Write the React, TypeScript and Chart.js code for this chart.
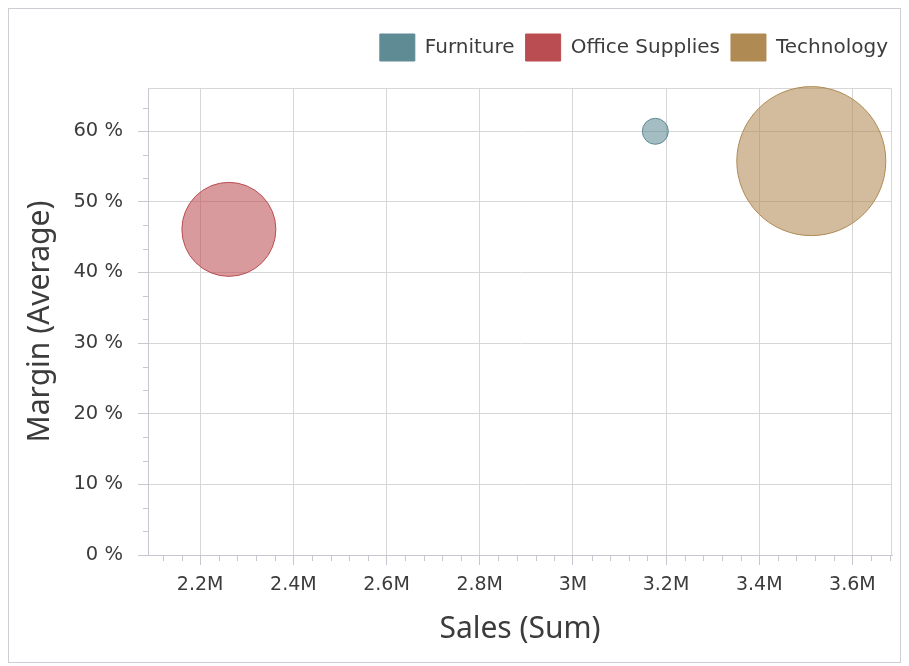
import React, { useEffect, useRef } from 'react';
import { Chart, registerables } from 'chart.js';

Chart.register(...registerables);

// ---- data ----
const seriesNames = ['Furniture', 'Office Supplies', 'Technology'];
const salesSum = [3177000, 2261600, 3511800];
const marginAvg = [59.97, 46.09, 55.75];
const bubbleRadius = [13, 47, 74.5];
const seriesColors = ['#5F8B95', '#BA4D51', '#AF8A53'];

const xTickValues = [2200000, 2400000, 2600000, 2800000, 3000000, 3200000, 3400000, 3600000];
const xTickLabels = ['2.2M', '2.4M', '2.6M', '2.8M', '3M', '3.2M', '3.4M', '3.6M'];
const yTickValues = [0, 10, 20, 30, 40, 50, 60];
const yTickLabels = ['0 %', '10 %', '20 %', '30 %', '40 %', '50 %', '60 %'];
const xRange = [2088000, 3685000];
const yRange = [0, 66.1];
const xMinorPerMajor = 5;
const yMinorPerMajor = 3;

const xTitle = 'Sales (Sum)';
const yTitle = 'Margin (Average)';

const W = 891;
const H = 653;
const TICK_FONT = 'DejaVu Sans';
const TITLE_FONT = 'Noto Sans';
const GRID = '#d6d6d6';
const AXIS = '#c6c7d1';
const TEXT = '#3c3c3c';
const FILL_ALPHA = '91';

function minorValues(major: number[], per: number, min: number, max: number) {
  const step = (major[1] - major[0]) / per;
  const out: number[] = [];
  const start = major[0] - Math.floor((major[0] - min) / step) * step;
  for (let v = start; v <= max + 1e-9; v += step) {
    const isMajor = major.some((m) => Math.abs(m - v) < step / 100);
    if (!isMajor) out.push(v);
  }
  return out;
}

export default function App() {
  const ref = useRef<HTMLCanvasElement>(null);

  useEffect(() => {
    const canvas = ref.current!;
    const framePlugin = {
      id: 'framePlugin',
      beforeLayout(chart: any) {
        const lg = chart.legend;
        if (lg && !lg.__patched) {
          const f = lg.fit.bind(lg);
          lg.fit = function () {
            f();
            this.height = 65;
          };
          lg.__patched = true;
        }
      },
      afterLayout(chart: any) {
        const lg = chart.legend;
        if (lg) {
          lg.left += 7;
          lg.right += 7;
        }
      },
      beforeDatasetsDraw(chart: any) {
        const { ctx, chartArea: a } = chart;
        ctx.save();
        ctx.strokeStyle = GRID;
        ctx.lineWidth = 1;
        ctx.beginPath();
        ctx.moveTo(Math.round(a.left) + 0.5, Math.round(a.top) + 0.5);
        ctx.lineTo(Math.round(a.right) - 0.5, Math.round(a.top) + 0.5);
        ctx.lineTo(Math.round(a.right) - 0.5, Math.round(a.bottom) + 0.5);
        ctx.stroke();
        ctx.restore();
      },
      afterDraw(chart: any) {
        const { ctx, chartArea: a, scales } = chart;
        ctx.save();
        ctx.strokeStyle = AXIS;
        ctx.lineWidth = 1;
        ctx.beginPath();
        for (const v of minorValues(yTickValues, yMinorPerMajor, yRange[0], yRange[1])) {
          const y = Math.round(scales.y.getPixelForValue(v)) + 0.5;
          ctx.moveTo(a.left - 5, y);
          ctx.lineTo(a.left, y);
        }
        for (const v of minorValues(xTickValues, xMinorPerMajor, xRange[0], xRange[1])) {
          const x = Math.round(scales.x.getPixelForValue(v)) + 0.5;
          ctx.moveTo(x, a.bottom);
          ctx.lineTo(x, a.bottom + 6);
        }
        ctx.stroke();
        ctx.restore();
      },
    };

    const chart = new Chart(canvas, {
      type: 'bubble',
      data: {
        datasets: seriesNames.map((name, i) => ({
          label: name,
          data: [{ x: salesSum[i], y: marginAvg[i], r: bubbleRadius[i] }],
          backgroundColor: seriesColors[i] + FILL_ALPHA,
          borderColor: seriesColors[i],
          borderWidth: 1,
          hoverRadius: 0,
          clip: false as any,
        })),
      },
      options: {
        responsive: false,
        animation: false,
        events: [],
        layout: { autoPadding: false, padding: { top: 14, right: 8, left: 0, bottom: 0 } },
        plugins: {
          tooltip: { enabled: false },
          legend: {
            position: 'top',
            align: 'end',
            labels: {
              boxWidth: 35,
              boxHeight: 27,
              padding: 11,
              color: TEXT,
              font: { family: TICK_FONT, size: 20 },
              generateLabels: (ch: any) =>
                ch.data.datasets.map((ds: any, i: number) => ({
                  text: ds.label,
                  fillStyle: seriesColors[i],
                  strokeStyle: seriesColors[i],
                  lineWidth: 1,
                  hidden: false,
                  datasetIndex: i,
                  fontColor: TEXT,
                })),
            },
          },
        },
        scales: {
          x: {
            type: 'linear',
            position: 'bottom',
            min: xRange[0],
            max: xRange[1],
            afterBuildTicks: (s: any) => {
              s.ticks = xTickValues.map((v) => ({ value: v }));
            },
            afterFit: (s: any) => {
              s.height = 107;
              s.paddingLeft = 0;
              s.paddingRight = 0;
              s.paddingTop = 0;
              s.paddingBottom = 0;
            },
            ticks: {
              autoSkip: false,
              maxRotation: 0,
              padding: 9,
              color: TEXT,
              font: { family: TICK_FONT, size: 19 },
              callback: (v: any) => {
                const i = xTickValues.indexOf(Number(v));
                return i >= 0 ? xTickLabels[i] : '';
              },
            },
            grid: { color: GRID, tickColor: AXIS, tickLength: 10 },
            border: { color: AXIS },
            title: {
              display: true,
              text: xTitle,
              color: TEXT,
              font: { family: TITLE_FONT, size: 30 },
              padding: { top: 0, bottom: 15 },
            },
          },
          y: {
            type: 'linear',
            position: 'left',
            min: yRange[0],
            max: yRange[1],
            afterBuildTicks: (s: any) => {
              s.ticks = yTickValues.map((v) => ({ value: v }));
            },
            afterFit: (s: any) => {
              s.width = 139;
              s.paddingLeft = 0;
              s.paddingRight = 0;
              s.paddingTop = 0;
              s.paddingBottom = 0;
            },
            ticks: {
              autoSkip: false,
              padding: 15,
              color: TEXT,
              font: { family: TICK_FONT, size: 19.5 },
              callback: (v: any) => {
                const i = yTickValues.indexOf(Number(v));
                return i >= 0 ? yTickLabels[i] : '';
              },
            },
            grid: { color: GRID, tickColor: AXIS, tickLength: 10 },
            border: { color: AXIS },
            title: {
              display: true,
              text: yTitle,
              color: TEXT,
              font: { family: TITLE_FONT, size: 30 },
              padding: { top: 13, bottom: 0 },
            },
          },
        },
      },
      plugins: [framePlugin],
    } as any);

    return () => chart.destroy();
  }, []);

  return (
    <div
      style={{
        width: W + 2,
        height: H + 2,
        boxSizing: 'border-box',
        border: '1px solid #cdcdd4',
        boxShadow: '1px 1px 2px rgba(0,0,0,0.18)',
        background: '#fff',
      }}
    >
      <canvas ref={ref} width={W} height={H} style={{ display: 'block' }} />
    </div>
  );
}
